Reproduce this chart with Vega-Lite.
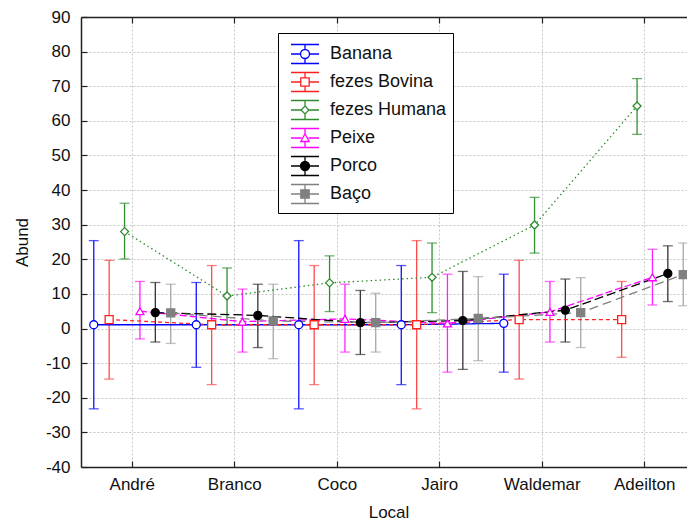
{
  "$schema": "https://vega.github.io/schema/vega-lite/v6.json",
  "width": 606,
  "height": 450,
  "autosize": {"type": "none"},
  "padding": {"left": 81, "top": 17, "right": 0, "bottom": 60},
  "background": "white",
  "datasets": {
    "d": [
      {"Local": "André", "Serie": "Banana", "Media": 1.1, "Inf": -23.2, "Sup": 25.4},
      {"Local": "André", "Serie": "fezes Bovina", "Media": 2.6, "Inf": -14.6, "Sup": 19.7},
      {"Local": "André", "Serie": "fezes Humana", "Media": 28.0, "Inf": 20.1, "Sup": 36.2},
      {"Local": "André", "Serie": "Peixe", "Media": 5.0, "Inf": -3.0, "Sup": 13.6},
      {"Local": "André", "Serie": "Porco", "Media": 4.6, "Inf": -3.9, "Sup": 13.3},
      {"Local": "André", "Serie": "Baço", "Media": 4.5, "Inf": -4.3, "Sup": 12.8},
      {"Local": "Branco", "Serie": "Banana", "Media": 1.1, "Inf": -11.2, "Sup": 13.3},
      {"Local": "Branco", "Serie": "fezes Bovina", "Media": 1.1, "Inf": -16.2, "Sup": 18.2},
      {"Local": "Branco", "Serie": "fezes Humana", "Media": 9.4, "Inf": 1.1, "Sup": 17.5},
      {"Local": "Branco", "Serie": "Peixe", "Media": 2.0, "Inf": -6.8, "Sup": 11.4},
      {"Local": "Branco", "Serie": "Porco", "Media": 3.8, "Inf": -5.5, "Sup": 12.8},
      {"Local": "Branco", "Serie": "Baço", "Media": 2.2, "Inf": -8.7, "Sup": 12.8},
      {"Local": "Coco", "Serie": "Banana", "Media": 1.1, "Inf": -23.2, "Sup": 25.4},
      {"Local": "Coco", "Serie": "fezes Bovina", "Media": 1.1, "Inf": -16.2, "Sup": 18.2},
      {"Local": "Coco", "Serie": "fezes Humana", "Media": 13.2, "Inf": 4.9, "Sup": 21.0},
      {"Local": "Coco", "Serie": "Peixe", "Media": 2.8, "Inf": -6.8, "Sup": 12.8},
      {"Local": "Coco", "Serie": "Porco", "Media": 1.7, "Inf": -7.5, "Sup": 11.0},
      {"Local": "Coco", "Serie": "Baço", "Media": 1.7, "Inf": -6.8, "Sup": 10.2},
      {"Local": "Jairo", "Serie": "Banana", "Media": 1.1, "Inf": -16.2, "Sup": 18.2},
      {"Local": "Jairo", "Serie": "fezes Bovina", "Media": 1.1, "Inf": -23.2, "Sup": 25.4},
      {"Local": "Jairo", "Serie": "fezes Humana", "Media": 14.8, "Inf": 4.6, "Sup": 24.7},
      {"Local": "Jairo", "Serie": "Peixe", "Media": 1.5, "Inf": -12.6, "Sup": 15.7},
      {"Local": "Jairo", "Serie": "Porco", "Media": 2.3, "Inf": -11.8, "Sup": 16.5},
      {"Local": "Jairo", "Serie": "Baço", "Media": 2.9, "Inf": -9.3, "Sup": 15.0},
      {"Local": "Waldemar", "Serie": "Banana", "Media": 1.5, "Inf": -12.6, "Sup": 15.7},
      {"Local": "Waldemar", "Serie": "fezes Bovina", "Media": 2.6, "Inf": -14.6, "Sup": 19.7},
      {"Local": "Waldemar", "Serie": "fezes Humana", "Media": 29.9, "Inf": 21.8, "Sup": 37.9},
      {"Local": "Waldemar", "Serie": "Peixe", "Media": 4.8, "Inf": -3.9, "Sup": 13.6},
      {"Local": "Waldemar", "Serie": "Porco", "Media": 5.3, "Inf": -3.9, "Sup": 14.3},
      {"Local": "Waldemar", "Serie": "Baço", "Media": 4.6, "Inf": -5.5, "Sup": 14.7},
      {"Local": "Adeilton", "Serie": "fezes Bovina", "Media": 2.6, "Inf": -8.3, "Sup": 13.6},
      {"Local": "Adeilton", "Serie": "fezes Humana", "Media": 64.3, "Inf": 56.1, "Sup": 72.2},
      {"Local": "Adeilton", "Serie": "Peixe", "Media": 14.8, "Inf": 6.8, "Sup": 22.9},
      {"Local": "Adeilton", "Serie": "Porco", "Media": 15.9, "Inf": 7.8, "Sup": 23.9},
      {"Local": "Adeilton", "Serie": "Baço", "Media": 15.6, "Inf": 6.6, "Sup": 24.7}
    ]
  },
  "data": {"name": "d"},
  "layer": [
    {
      "mark": {"type": "rule", "strokeWidth": 1.3},
      "encoding": {
        "x": {"field": "Local", "type": "nominal",
              "scale": {"type": "band", "domain": ["André", "Branco", "Coco", "Jairo", "Waldemar", "Adeilton"], "range": [0, 615], "paddingInner": 0, "paddingOuter": 0},
              "axis": {"orient": "bottom", "title": "Local", "grid": true, "labelAngle": 0, "labelPadding": 15, "titlePadding": 12}},
        "xOffset": {"field": "Serie", "type": "nominal", "scale": {"domain": ["Banana", "fezes Bovina", "fezes Humana", "Peixe", "Porco", "Baço"], "paddingInner": 0, "paddingOuter": 0.33}},
        "y": {"field": "Inf", "type": "quantitative",
              "scale": {"domain": [-40, 90], "nice": false, "zero": false},
              "axis": {"title": "Abund", "values": [-40, -30, -20, -10, 0, 10, 20, 30, 40, 50, 60, 70, 80, 90], "labelExpr": "'' + datum.value", "grid": true, "labelPadding": 17, "titlePadding": 14}},
        "y2": {"field": "Sup"},
        "stroke": {"field": "Serie", "type": "nominal", "legend": null,
                   "scale": {"domain": ["Banana", "fezes Bovina", "fezes Humana", "Peixe", "Porco", "Baço"], "range": ["#1010ff", "#ff4a4a", "#2f8f2f", "#ff22ff", "#333333", "#a6a6a6"]}}
      }
    },
    {
      "mark": {"type": "tick", "thickness": 1.3, "size": 10},
      "encoding": {
        "x": {"field": "Local", "type": "nominal", "axis": null},
        "xOffset": {"field": "Serie", "type": "nominal"},
        "y": {"field": "Inf", "type": "quantitative",
              "axis": {"title": "Abund", "values": [-40, -30, -20, -10, 0, 10, 20, 30, 40, 50, 60, 70, 80, 90], "labelExpr": "'' + datum.value", "grid": true, "labelPadding": 17, "titlePadding": 14}},
        "color": {"field": "Serie", "type": "nominal", "legend": null,
                  "scale": {"domain": ["Banana", "fezes Bovina", "fezes Humana", "Peixe", "Porco", "Baço"], "range": ["#1010ff", "#ff4a4a", "#2f8f2f", "#ff22ff", "#333333", "#a6a6a6"]}}
      }
    },
    {
      "mark": {"type": "tick", "thickness": 1.3, "size": 10},
      "encoding": {
        "x": {"field": "Local", "type": "nominal", "axis": null},
        "xOffset": {"field": "Serie", "type": "nominal"},
        "y": {"field": "Sup", "type": "quantitative",
              "axis": {"title": "Abund", "values": [-40, -30, -20, -10, 0, 10, 20, 30, 40, 50, 60, 70, 80, 90], "labelExpr": "'' + datum.value", "grid": true, "labelPadding": 17, "titlePadding": 14}},
        "color": {"field": "Serie", "type": "nominal", "legend": null,
                  "scale": {"domain": ["Banana", "fezes Bovina", "fezes Humana", "Peixe", "Porco", "Baço"], "range": ["#1010ff", "#ff4a4a", "#2f8f2f", "#ff22ff", "#333333", "#a6a6a6"]}}
      }
    },
    {
      "mark": {"type": "line", "strokeWidth": 1.3},
      "encoding": {
        "x": {"field": "Local", "type": "nominal",
              "axis": {"orient": "top", "labels": false, "title": null, "grid": false}},
        "xOffset": {"field": "Serie", "type": "nominal"},
        "y": {"field": "Media", "type": "quantitative",
              "axis": {"title": "Abund", "values": [-40, -30, -20, -10, 0, 10, 20, 30, 40, 50, 60, 70, 80, 90], "labelExpr": "'' + datum.value", "grid": true, "labelPadding": 17, "titlePadding": 14}},
        "stroke": {"field": "Serie", "type": "nominal", "legend": null,
                   "scale": {"domain": ["Banana", "fezes Bovina", "fezes Humana", "Peixe", "Porco", "Baço"], "range": ["#0000ff", "#ff2020", "#2e8b2e", "#ff00ff", "#000000", "#808080"]}},
        "strokeDash": {"field": "Serie", "type": "nominal", "legend": null,
                       "scale": {"domain": ["Banana", "fezes Bovina", "fezes Humana", "Peixe", "Porco", "Baço"], "range": [[1, 0], [4, 3], [1.5, 3], [7, 3], [9, 4], [9, 5]]}}
      }
    },
    {
      "mark": {"type": "point", "filled": true, "strokeWidth": 1.3, "size": 64, "opacity": 1},
      "encoding": {
        "x": {"field": "Local", "type": "nominal", "axis": null},
        "xOffset": {"field": "Serie", "type": "nominal"},
        "y": {"field": "Media", "type": "quantitative",
              "axis": {"title": "Abund", "values": [-40, -30, -20, -10, 0, 10, 20, 30, 40, 50, 60, 70, 80, 90], "labelExpr": "'' + datum.value", "grid": true, "labelPadding": 17, "titlePadding": 14}},
        "shape": {"field": "Serie", "type": "nominal", "legend": null,
                  "scale": {"domain": ["Banana", "fezes Bovina", "fezes Humana", "Peixe", "Porco", "Baço"], "range": ["circle", "square", "diamond", "triangle-up", "circle", "square"]}},
        "fill": {"field": "Serie", "type": "nominal", "legend": null,
                 "scale": {"domain": ["Banana", "fezes Bovina", "fezes Humana", "Peixe", "Porco", "Baço"], "range": ["#ffffff", "#ffffff", "#ffffff", "#ffffff", "#000000", "#808080"]}},
        "stroke": {"field": "Serie", "type": "nominal", "legend": null,
                   "scale": {"domain": ["Banana", "fezes Bovina", "fezes Humana", "Peixe", "Porco", "Baço"], "range": ["#0000ff", "#ff2020", "#2e8b2e", "#ff00ff", "#000000", "#808080"]}}
      }
    },
    {
      "mark": {"type": "point", "filled": true, "strokeWidth": 1.3, "size": 784, "opacity": 0},
      "encoding": {
        "x": {"field": "Local", "type": "nominal", "axis": null},
        "xOffset": {"field": "Serie", "type": "nominal"},
        "y": {"field": "Media", "type": "quantitative",
              "axis": {"title": "Abund", "values": [-40, -30, -20, -10, 0, 10, 20, 30, 40, 50, 60, 70, 80, 90], "labelExpr": "'' + datum.value", "grid": true, "labelPadding": 17, "titlePadding": 14}},
        "shape": {"field": "Serie", "type": "nominal", "legend": {"title": null},
                  "scale": {"domain": ["Banana", "fezes Bovina", "fezes Humana", "Peixe", "Porco", "Baço"],
                            "range": [
                              "M-1,-0.68H1M-1,0.68H1M0,-0.68V-0.32M0,0.32V0.68M-1,0H-0.32M0.32,0H1M0.32,0A0.32,0.32,0,1,1,-0.32,0A0.32,0.32,0,1,1,0.32,0Z",
                              "M-1,-0.68H1M-1,0.68H1M0,-0.68V-0.3M0,0.3V0.68M-1,0H-0.3M0.3,0H1M-0.3,-0.3H0.3V0.3H-0.3Z",
                              "M-1,-0.68H1M-1,0.68H1M0,-0.68V-0.28M0,0.28V0.68M-1,0H-0.28M0.28,0H1M0,-0.28L0.28,0L0,0.28L-0.28,0Z",
                              "M-1,-0.68H1M-1,0.68H1M0,-0.68V-0.3M0,0.25V0.68M-1,0H-0.25M0.25,0H1M0,-0.3L0.3,0.25L-0.3,0.25Z",
                              "M-1,-0.68H1M-1,0.68H1M0,-0.68V-0.32M0,0.32V0.68M-1,0H-0.32M0.32,0H1M0.32,0A0.32,0.32,0,1,1,-0.32,0A0.32,0.32,0,1,1,0.32,0Z",
                              "M-1,-0.68H1M-1,0.68H1M0,-0.68V-0.3M0,0.3V0.68M-1,0H-0.3M0.3,0H1M-0.3,-0.3H0.3V0.3H-0.3Z"
                            ]}},
        "fill": {"field": "Serie", "type": "nominal", "legend": {"title": null},
                 "scale": {"domain": ["Banana", "fezes Bovina", "fezes Humana", "Peixe", "Porco", "Baço"], "range": ["#ffffff", "#ffffff", "#ffffff", "#ffffff", "#000000", "#808080"]}},
        "stroke": {"field": "Serie", "type": "nominal", "legend": {"title": null},
                   "scale": {"domain": ["Banana", "fezes Bovina", "fezes Humana", "Peixe", "Porco", "Baço"], "range": ["#0000ff", "#ff2020", "#2e8b2e", "#ff00ff", "#000000", "#808080"]}}
      }
    }
  ],
  "resolve": {
    "scale": {"color": "independent", "stroke": "independent", "fill": "independent", "shape": "independent", "strokeDash": "independent"},
    "axis": {"x": "independent", "y": "shared"}
  },
  "config": {
    "view": {"stroke": null},
    "font": "Liberation Sans",
    "axis": {
      "labelFont": "Liberation Sans", "titleFont": "Liberation Sans",
      "labelFontSize": 17, "titleFontSize": 17, "titleFontWeight": "normal",
      "labelColor": "#111111", "titleColor": "#111111",
      "domainColor": "#222222", "domainWidth": 1.5, "tickColor": "#222222", "tickSize": -6, "tickWidth": 1.2,
      "gridColor": "#c4c4c4", "gridDash": [2, 2], "gridWidth": 1
    },
    "legend": {
      "orient": "none", "legendX": 197, "legendY": 16,
      "padding": 6, "symbolOffset": 6, "rowPadding": 0,
      "labelFont": "Liberation Sans", "labelFontSize": 18, "labelColor": "#111111", "labelOffset": 10,
      "strokeColor": "#000000", "fillColor": "#ffffff", "symbolSize": 784, "symbolStrokeWidth": 1.3, "symbolOpacity": 1
    }
  }
}
